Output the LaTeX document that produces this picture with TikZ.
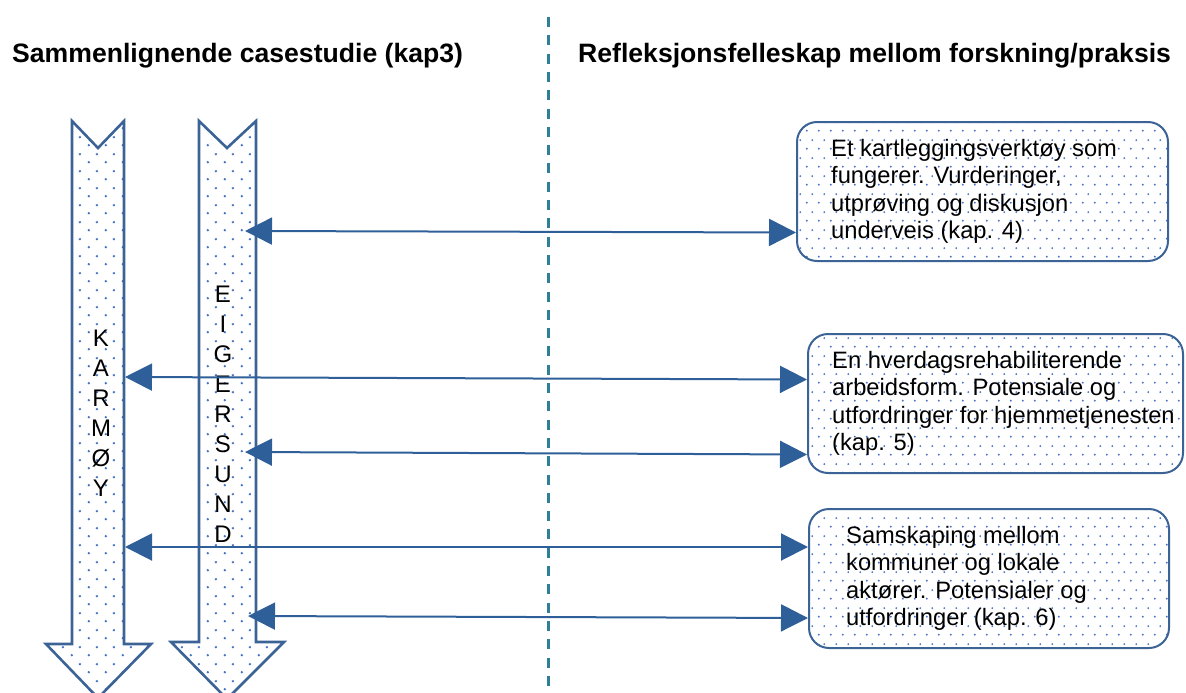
\documentclass[tikz,border=0pt]{standalone}
\usepackage{fontspec}
\setmainfont{Liberation Sans}
\usetikzlibrary{arrows.meta,patterns.meta}
\definecolor{outl}{HTML}{3B6396}
\definecolor{dotc}{HTML}{4472C4}
\definecolor{conn}{HTML}{2F5F98}
\definecolor{teal}{HTML}{2E8097}
\tikzdeclarepattern{name=bigdots, type=uncolored,
  bounding box={(0pt,0pt) and (17pt,17pt)}, tile size={(17pt,17pt)},
  code={\fill (4pt,4pt) circle (1.4pt); \fill (12.5pt,12.5pt) circle (1.4pt);}}
\tikzdeclarepattern{name=smalldots, type=uncolored,
  bounding box={(0pt,0pt) and (12pt,18pt)}, tile size={(12pt,18pt)},
  code={\fill (3pt,4.5pt) circle (1.1pt); \fill (9pt,13.5pt) circle (1.1pt);}}
\tikzset{
  bigarrow/.style={draw=outl, line width=2.6pt, pattern={bigdots}, pattern color=dotc, line join=miter},
  box/.style={draw=outl, line width=2pt, rounded corners=20pt, pattern={smalldots}, pattern color=dotc},
  boxtext/.style={align=left, inner sep=0pt, font=\fontsize{23.7}{27.4}\selectfont},
  title/.style={inner sep=0pt, font=\fontsize{26.6}{30}\selectfont\bfseries},
  vletters/.style={align=center, inner sep=0pt, font=\fontsize{24}{30}\selectfont},
  link/.style={draw=conn, line width=2pt, {Triangle[length=27pt,width=27pt]}-{Triangle[length=27pt,width=27pt]}},
  dashline/.style={draw=teal, line width=3pt, dash pattern=on 10pt off 8.3pt}
}
\begin{document}
\begin{tikzpicture}[x=1pt,y=-1pt]
\useasboundingbox (0,0) rectangle (1186,693);
% titles
\node[title, anchor=base west] (t1) at (12,63) {Sammenlignende casestudie (kap3)};
\node[title, anchor=base west] (t2) at (578,63) {Refleksjonsfelleskap mellom forskning/praksis};
% separator
\coordinate (dtop) at (548,17);
\coordinate (dbot) at (548,700);
\draw[dashline] (dtop) -- (dbot);
% big down arrows
\draw[bigarrow] (72,121) -- (98,148) -- (124,121) -- (124,644) -- (151,644) -- (98,698) -- (46,644) -- (72,644) -- cycle;
\draw[bigarrow] (199,121) -- (227,148) -- (256,121) -- (256,642) -- (284,642) -- (227,699) -- (171,642) -- (199,642) -- cycle;
\node[vletters] (karmoy) at (101,413) {K\\A\\R\\M\\Ø\\Y};
\node[vletters] (eiger) at (223,414) {E\\I\\G\\E\\R\\S\\U\\N\\D};
% boxes
\node[box, minimum width=371pt, minimum height=139pt] (b1) at (982.5,191.5) {};
\node[boxtext, anchor=west] (b1t) at ([xshift=35pt]b1.west) {Et kartleggingsverktøy som\\fungerer. Vurderinger,\\utprøving og diskusjon\\underveis (kap. 4)};
\node[box, minimum width=375pt, minimum height=139pt] (b2) at (995.5,403.5) {};
\node[boxtext, anchor=west] (b2t) at ([xshift=25pt]b2.west) {En hverdagsrehabiliterende\\arbeidsform. Potensiale og\\utfordringer for hjemmetjenesten\\(kap. 5)};
\node[box, minimum width=360pt, minimum height=139pt] (b3) at (989,578.5) {};
\node[boxtext, anchor=west] (b3t) at ([xshift=38pt]b3.west) {Samskaping mellom\\kommuner og lokale\\aktører. Potensialer og\\utfordringer (kap. 6)};
% connector ends on the big arrows
\coordinate (e1) at (245,231);
\coordinate (k1) at (125,377);
\coordinate (e2) at (245,452);
\coordinate (k2) at (125,547);
\coordinate (e3) at (248,616);
% connectors
\draw[link] (e1) -- ([yshift=-41pt]b1.west);
\draw[link] (k1) -- ([yshift=24pt]b2.west);
\draw[link] (e2) -- ([yshift=-51pt]b2.west);
\draw[link] (k2) -- ([yshift=31.5pt]b3.west);
\draw[link] (e3) -- ([yshift=-39.5pt]b3.west);
\end{tikzpicture}
\end{document}
